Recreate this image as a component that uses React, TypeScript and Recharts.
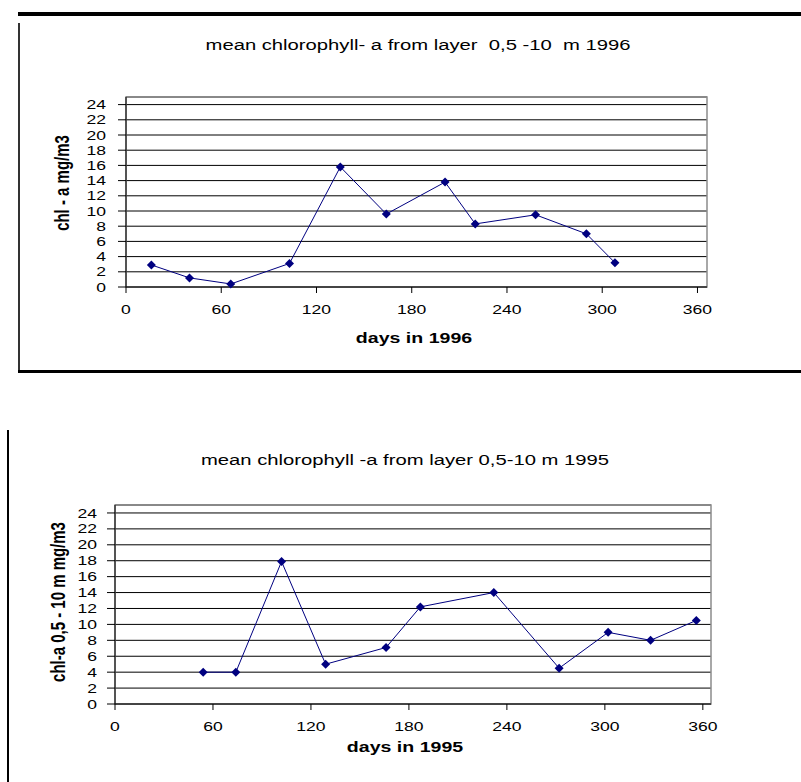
import React from "react";
import { LineChart, Line, XAxis, YAxis, CartesianGrid, ReferenceArea, Label } from "recharts";

// values
const days1996 = [16, 40, 66, 103, 135, 164, 201, 220, 258, 290, 308];
const chl1996 = [2.9, 1.2, 0.4, 3.1, 15.8, 9.6, 13.8, 8.3, 9.5, 7.0, 3.2];
const days1995 = [54, 74, 102, 129, 166, 187, 232, 272, 302, 328, 356];
const chl1995 = [4.0, 4.0, 17.9, 5.0, 7.1, 12.2, 14.0, 4.5, 9.0, 8.0, 10.5];
const dayTicks = [0, 60, 120, 180, 240, 300, 360];
const chlTicks = [0, 2, 4, 6, 8, 10, 12, 14, 16, 18, 20, 22, 24];

const FONT = '"Liberation Sans", Arial, sans-serif';
const SX = 1.35; // the original screenshot is stretched sideways
const NAVY = "#000080";

const XTick = (p: any) => (
  <g transform={`translate(${p.x},${p.y})`}>
    <text transform={`scale(${SX},1)`} textAnchor="middle" dy="0.71em" fontSize={13} fontFamily={FONT} fill="#000">
      {p.payload.value}
    </text>
  </g>
);

const YTick = (p: any) => (
  <g transform={`translate(${p.x},${p.y})`}>
    <text transform={`scale(${SX},1)`} textAnchor="end" dy="0.35em" fontSize={13} fontFamily={FONT} fill="#000">
      {p.payload.value}
    </text>
  </g>
);

const diamond = (p: any) => {
  const { cx, cy, index } = p;
  const r = 4.5;
  return <path key={`d${index}`} d={`M${cx},${cy - r}L${cx + r},${cy}L${cx},${cy + r}L${cx - r},${cy}Z`} fill={NAVY} />;
};

type ChartProps = {
  days: number[];
  values: number[];
  maxDay: number;
  title: string;
  xTitle: string;
  yTitle: string;
  width: number;
  height: number;
  margin: { top: number; right: number; left: number; bottom: number };
  yAxisWidth: number;
  yTickMargin: number;
  titlePos: [number, number];
  xTitlePos: [number, number];
  yTitlePos: [number, number];
  yTitleSize: number;
};

function ChlChart(c: ChartProps) {
  const data = c.days.map((d, i) => ({ day: d, chl: c.values[i] }));
  return (
    <LineChart width={c.width} height={c.height} data={data} margin={c.margin}>
      <ReferenceArea x1={0} x2={c.maxDay} y1={0} y2={25} fill="none" stroke="#8c8c8c" strokeWidth={1.5} ifOverflow="visible" />
      <CartesianGrid vertical={false} stroke="#000" strokeWidth={1} />
      <XAxis
        dataKey="day"
        type="number"
        domain={[0, c.maxDay]}
        ticks={dayTicks}
        allowDataOverflow
        height={40}
        stroke="#000"
        tickSize={6}
        tickMargin={12}
        tick={(p: any) => <XTick {...p} />}
      >
        <Label
          content={() => (
            <g>
              <text
                transform={`translate(${c.titlePos[0]},${c.titlePos[1]}) scale(${SX},1)`}
                textAnchor="middle"
                dominantBaseline="central"
                fontSize={15}
                fontFamily={FONT}
                fill="#000"
                style={{ whiteSpace: "pre" }}
              >
                {c.title}
              </text>
              <text
                transform={`translate(${c.xTitlePos[0]},${c.xTitlePos[1]}) scale(${SX},1)`}
                textAnchor="middle"
                dominantBaseline="central"
                fontSize={14.5}
                fontWeight="bold"
                fontFamily={FONT}
                fill="#000"
              >
                {c.xTitle}
              </text>
            </g>
          )}
        />
      </XAxis>
      <YAxis
        type="number"
        domain={[0, 25]}
        ticks={chlTicks}
        interval={0}
        width={c.yAxisWidth}
        stroke="#000"
        tickSize={8}
        tickMargin={c.yTickMargin}
        tick={(p: any) => <YTick {...p} />}
      >
        <Label
          content={() => (
            <text
              transform={`translate(${c.yTitlePos[0]},${c.yTitlePos[1]}) rotate(-90) scale(1,${SX})`}
              textAnchor="middle"
              dominantBaseline="central"
              fontSize={c.yTitleSize}
              fontWeight="bold"
              fontFamily={FONT}
              fill="#000"
            >
              {c.yTitle}
            </text>
          )}
        />
      </YAxis>
      <Line
        type="linear"
        dataKey="chl"
        stroke={NAVY}
        strokeWidth={1}
        dot={diamond}
        activeDot={false}
        isAnimationActive={false}
      />
    </LineChart>
  );
}

export default function App() {
  return (
    <div style={{ position: "absolute", left: 0, top: 0, width: 801, height: 782, background: "#fff" }}>
      {/* frame round the 1996 chart */}
      <div style={{ position: "absolute", left: 18, top: 12, width: 783, height: 3.5, background: "#000" }} />
      <div style={{ position: "absolute", left: 18, top: 23, width: 2, height: 349, background: "#333" }} />
      <div style={{ position: "absolute", left: 18, top: 370, width: 783, height: 3, background: "#000" }} />
      {/* line left of the 1995 chart */}
      <div style={{ position: "absolute", left: 7, top: 430, width: 2, height: 352, background: "#000" }} />

      <div style={{ position: "absolute", left: 0, top: 0 }}>
        <ChlChart
          days={days1996}
          values={chl1996}
          maxDay={366}
          title="mean chlorophyll- a from layer  0,5 -10  m 1996"
          xTitle="days in 1996"
          yTitle="chl - a mg/m3"
          width={801}
          height={372}
          margin={{ top: 97, right: 94, left: 0, bottom: 45 }}
          yAxisWidth={126}
          yTickMargin={12}
          titlePos={[418, 45]}
          xTitlePos={[414, 338]}
          yTitlePos={[62, 183]}
          yTitleSize={15}
        />
      </div>

      <div style={{ position: "absolute", left: 0, top: 400 }}>
        <ChlChart
          days={days1995}
          values={chl1995}
          maxDay={365}
          title="mean chlorophyll -a from layer 0,5-10 m 1995"
          xTitle="days in 1995"
          yTitle="chl-a 0,5 - 10 m mg/m3"
          width={801}
          height={382}
          margin={{ top: 105, right: 90, left: 0, bottom: 38 }}
          yAxisWidth={115}
          yTickMargin={10}
          titlePos={[405, 60]}
          xTitlePos={[405, 347]}
          yTitlePos={[58, 202]}
          yTitleSize={15}
        />
      </div>
    </div>
  );
}
